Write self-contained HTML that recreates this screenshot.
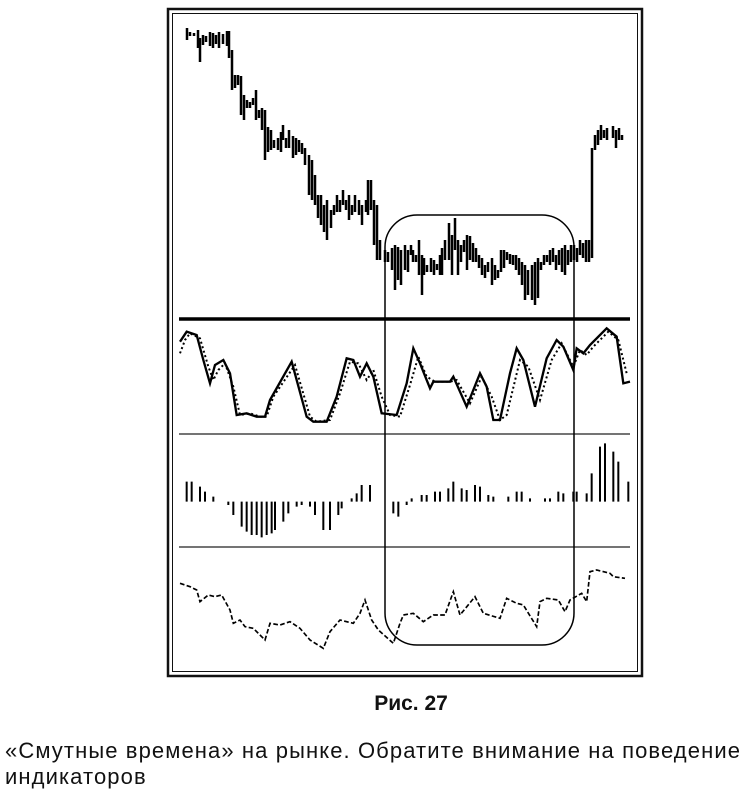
<!DOCTYPE html>
<html><head><meta charset="utf-8"><style>
body{margin:0;background:#fff;width:750px;height:802px;overflow:hidden;font-family:"Liberation Sans",sans-serif}
.t{position:absolute;color:#111}
</style></head><body>
<svg width="750" height="802" style="position:absolute;left:0;top:0">
<rect x="168" y="9" width="474" height="667" fill="none" stroke="#111" stroke-width="2.5"/>
<rect x="172.5" y="13.5" width="465" height="658" fill="none" stroke="#111" stroke-width="1"/>
<line x1="179" y1="319" x2="630" y2="319" stroke="#000" stroke-width="3.5"/>
<line x1="179" y1="434" x2="630" y2="434" stroke="#222" stroke-width="1.2"/>
<line x1="179" y1="547" x2="630" y2="547" stroke="#222" stroke-width="1.2"/>
<rect x="385" y="215" width="189" height="430" rx="32" ry="32" fill="none" stroke="#000" stroke-width="1.5"/>
<g stroke="#000" stroke-width="2.5" fill="none">
<path d="M187 28V40M190 32V36M194 33V36M198 30V48M200 38V62M203 35V45M206 36V42M210 32V46M213 33V48M216 35V44M219 32V48M223 34V44M227 31V46M229 31V58M232 50V90M235 75V88M238 75V85M241 76V115M244 95V120M247 100V108M250 102V108M253 98V105M256 90V120M259 110V118M262 108V130M265 110V160M268 127V152M271 130V150M274 140V148M278 138V150M281 132V152M283 125V140M286 138V148M289 130V148M293 136V158M296 138V155M299 140V152M302 143V154M305 148V165M309 155V195M312 160V200M315 175V205M318 195V218M321 195V225M324 205V232M327 200V240M331 210V228M334 205V215M337 195V212M340 200V212M343 190V205M346 200V210M349 195V220M352 205V215M355 195V212M359 200V215M362 205V225M366 200V212M368 180V215M371 180V210M374 200V245M377 205V260M380 240V260M385 250V262M388 252V262M392 248V270M395 245V290M398 247V280M401 250V285M405 245V270M408 250V272M411 245V255M413 250V262M416 255V262M419 240V275M422 255V295M424 258V275M427 265V272M431 258V272M434 260V275M437 264V270M440 255V275M442 248V275M445 240V260M449 223V260M452 235V275M455 218V250M458 240V275M461 245V262M464 240V252M467 235V270M470 236V260M473 243V262M476 248V262M479 255V268M482 258V275M485 265V278M488 262V272M492 258V285M495 265V280M498 270V278M501 250V272M504 250V268M507 252V260M510 254V264M513 255V265M516 255V270M519 258V275M522 262V285M525 265V300M528 270V295M532 265V300M535 262V305M538 258V298M541 262V270M544 255V265M547 255V262M550 250V265M553 248V262M556 255V270M559 250V265M562 248V272M565 245V275M568 250V265M571 245V262M574 245V260M577 248V262M580 240V255M583 243V258M586 240V262M589 240V262M592 148V258M595 135V150M598 130V145M601 125V140M604 130V138M607 128V140M613 126V138M616 130V148M619 128V140M622 135V140"/>
</g>
<g transform="translate(160,300) scale(0.33333)" fill="none" stroke="#000">
<polyline stroke-width="6" stroke-dasharray="6 8" points="60,160 75,120 90,100 120,115 145,200 160,240 175,210 195,190 220,260 240,345 270,340 300,350 320,350 340,290 405,195 450,350 470,365 510,360 540,280 570,185 595,190 620,240 640,210 665,290 690,345 720,350 750,255 775,170 800,230 825,245 870,245 890,240 930,310 965,230 995,290 1020,360 1040,345 1080,180 1105,200 1140,300 1175,180 1205,130 1240,200 1260,150 1280,165 1300,140 1345,95 1375,120 1400,220"/>
<polyline stroke-width="7" points="60,125 80,95 110,105 130,180 150,250 165,195 190,180 210,220 230,345 260,340 290,350 315,350 330,300 395,185 440,350 460,365 500,365 530,290 560,175 580,180 600,230 620,190 640,230 665,340 710,345 740,250 760,145 780,190 810,265 820,245 870,245 880,230 920,320 960,220 980,260 1000,360 1020,360 1050,220 1070,145 1090,180 1125,320 1160,175 1190,120 1210,140 1240,210 1250,145 1270,160 1290,135 1340,85 1370,110 1390,250 1410,245"/>
<path stroke-width="6" d="M80 605V545M95 605V545M120 605V560M135 605V575M160 605V590M205 605V615M220 605V645M245 605V680M260 605V695M275 605V705M290 605V705M305 605V712M320 605V705M335 605V700M345 605V690M370 605V665M385 605V640M410 605V620M425 605V615M450 605V620M465 605V645M490 605V690M510 605V690M535 605V645M545 605V625M575 605V595M590 605V580M605 605V555M630 605V555M700 605V640M715 605V650M740 605V615M755 605V595M785 605V585M800 605V585M825 605V575M840 605V575M865 605V565M880 605V545M905 605V565M920 605V570M945 605V555M960 605V560M985 605V585M1000 605V590M1045 605V590M1070 605V575M1085 605V575M1110 605V595M1155 605V595M1170 605V595M1195 605V575M1210 605V580M1240 605V575M1250 605V575M1280 605V580M1295 605V520M1320 605V440M1335 605V430M1360 605V455M1375 605V485M1405 605V545"/>
<polyline stroke-width="5" stroke-dasharray="14 7" points="60,850 90,860 110,870 120,905 145,885 165,890 185,885 210,930 220,970 240,960 255,980 280,985 315,1020 330,970 360,975 390,965 420,985 450,1020 490,1045 510,995 540,960 580,970 600,940 615,900 635,960 655,990 700,1030 720,970 730,945 760,940 790,965 820,945 855,945 880,875 900,945 945,890 970,940 1020,955 1040,895 1070,910 1090,915 1130,980 1140,905 1160,895 1195,900 1215,935 1230,900 1265,880 1280,905 1290,815 1310,810 1350,820 1360,830 1395,835"/>
</g>
</svg>
<div class="t" style="left:0;width:822px;top:692px;text-align:center;font-size:21px;font-weight:bold">Рис. 27</div>
<div class="t" style="left:5px;top:738px;font-size:22px;letter-spacing:1.1px;line-height:26px;white-space:nowrap">«Смутные времена» на рынке. Обратите внимание на поведение<br>индикаторов</div>
</body></html>
